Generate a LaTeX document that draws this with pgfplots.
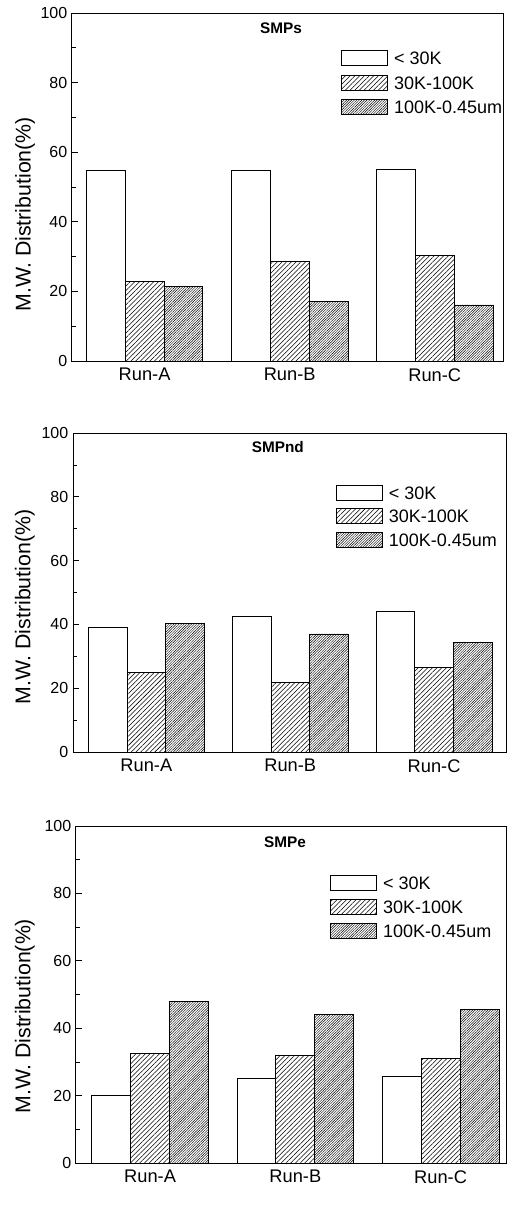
\documentclass[border=0pt]{standalone}
\usepackage{fontspec}
\setmainfont{Liberation Sans}
\newfontfamily\serifcap{Liberation Serif}
\usepackage{pgfplots}
\pgfplotsset{compat=1.18}
\usetikzlibrary{patterns.meta}

\pgfplotsset{
  lgimg/.style={legend image code/.code={\draw[##1] (0pt,-5.6pt) rectangle (34.5pt,5.6pt);}},
  barA/.style={ybar, bar width=0.268, bar shift=-0.268, draw=black, fill=white, line width=0.6pt, lgimg},
  barB/.style={ybar, bar width=0.268, bar shift=0, draw=black, line width=0.6pt,
     pattern={Lines[angle=45,distance=2.5pt,line width=0.4pt]}, lgimg},
  barC/.style={ybar, bar width=0.268, bar shift=0.268, draw=black, line width=0.6pt,
     pattern={Lines[angle=45,distance=1.35pt,line width=0.33pt]}, lgimg},
  mwaxis/.style={
    scale only axis, anchor=south west,
    xmin=0.5, xmax=3.5, ymin=0, ymax=100,
    xtick={1,2,3}, xticklabels={Run-A,Run-B,Run-C},
    ytick={0,20,40,60,80,100}, minor ytick={10,30,50,70,90},
    tick align=inside, ytick pos=left, xtick pos=bottom,
    xtick style={draw=none},
    major tick length=4.5pt, minor tick length=3pt,
    ytick style={line width=0.6pt, black},
    axis line style={line width=0.75pt},
    /pgf/number format/assume math mode=true,
    yticklabel style={font=\fontsize{12}{14}\selectfont},
    xticklabel style={font=\fontsize{13.7}{16}\selectfont, yshift=-2pt},
    legend style={draw=none, fill=none, anchor=north west, inner sep=0pt,
       font=\fontsize{13.5}{16}\selectfont, column sep=4.5pt, row sep=6.8pt,
       nodes={inner sep=0pt, text height=10pt, text depth=0pt}},
    legend cell align=left,
    ylabel={M.W. Distribution(\%)},
    every axis y label/.style={rotate=90, anchor=center, font=\fontsize{16}{18}\selectfont},
  }
}

\begin{document}
\begin{tikzpicture}
\useasboundingbox (0,0) rectangle (380.25pt,-913.5pt);

% (a)
\begin{axis}[mwaxis, at={(54pt,-270.75pt)}, width=323.25pt, height=261pt, xmax=3.47,
  ylabel style={at={(axis description cs:-0.109,0.422)}},
  legend style={at={(0.624,0.895)}, row sep=6.8pt}]
\addplot[barA] coordinates {(1,54.7) (2,54.9) (3,55.1)};
\addplot[barB] coordinates {(1,22.8) (2,28.6) (3,30.4)};
\addplot[barC] coordinates {(1,21.4) (2,17.1) (3,16.1)};
\legend{{< 30K},{30K-100K},{100K-0.45um}}
\node[font=\bfseries\fontsize{11.5}{13}\selectfont] at (axis description cs:0.485,0.957) {SMPs};
\node[font=\serifcap\fontsize{12.5}{14}\selectfont] at (axis description cs:0.452,-0.121) {(a)};
\end{axis}

% (b)
\begin{axis}[mwaxis, at={(54.75pt,-564pt)}, width=324.75pt, height=239.25pt, xmin=0.49, xmax=3.5,
  ylabel style={at={(axis description cs:-0.111,0.455)}},
  legend style={at={(0.607,0.839)}, row sep=6.05pt}]
\addplot[barA] coordinates {(1,39.1) (2,42.4) (3,44.2)};
\addplot[barB] coordinates {(1,25.0) (2,21.9) (3,26.6)};
\addplot[barC] coordinates {(1,40.4) (2,37.0) (3,34.3)};
\legend{{< 30K},{30K-100K},{100K-0.45um}}
\node[font=\bfseries\fontsize{11.5}{13}\selectfont] at (axis description cs:0.473,0.956) {SMPnd};
\node[font=\serifcap\fontsize{12.5}{14}\selectfont] at (axis description cs:0.443,-0.135) {(b)};
\end{axis}

% (c)
\begin{axis}[mwaxis, at={(57pt,-872.25pt)}, width=322.5pt, height=252.75pt, xmin=0.49, xmax=3.45,
  ylabel style={at={(axis description cs:-0.119,0.436)}},
  legend style={at={(0.591,0.856)}, row sep=6.4pt}]
\addplot[barA] coordinates {(1,20.0) (2,25.1) (3,25.7)};
\addplot[barB] coordinates {(1,32.4) (2,32.0) (3,30.9)};
\addplot[barC] coordinates {(1,47.9) (2,44.0) (3,45.6)};
\legend{{< 30K},{30K-100K},{100K-0.45um}}
\node[font=\bfseries\fontsize{11.5}{13}\selectfont] at (axis description cs:0.486,0.953) {SMPe};
\node[font=\serifcap\fontsize{12.5}{14}\selectfont] at (axis description cs:0.447,-0.131) {(c)};
\end{axis}
\end{tikzpicture}
\end{document}
